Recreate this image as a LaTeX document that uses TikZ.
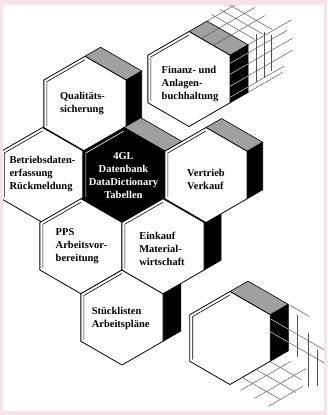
\documentclass[tikz,border=0pt]{standalone}
\usepackage{fontspec}
\setmainfont{Liberation Serif}
\usetikzlibrary{calc}
\definecolor{facegray}{RGB}{160,160,160}
\definecolor{pinkbg}{RGB}{246,226,233}
\definecolor{gridgray}{RGB}{80,80,80}
\definecolor{gridlight}{RGB}{200,200,200}
% name, cx, cy, R, depth
\newcommand\mkhex[5]{%
  \coordinate (#1-c) at (#2,#3);
  \coordinate (#1-T) at (#2,#3-#4);
  \coordinate (#1-UR) at (#2+0.866*#4,#3-0.5*#4);
  \coordinate (#1-LR) at (#2+0.866*#4,#3+0.5*#4);
  \coordinate (#1-B) at (#2,#3+#4);
  \coordinate (#1-LL) at (#2-0.866*#4,#3+0.5*#4);
  \coordinate (#1-UL) at (#2-0.866*#4,#3-0.5*#4);
  \coordinate (#1-Tb) at (#2+0.866*#5,#3-#4-0.5*#5);
  \coordinate (#1-URb) at (#2+0.866*#4+0.866*#5,#3-0.5*#4-0.5*#5);
  \coordinate (#1-LRb) at (#2+0.866*#4+0.866*#5,#3+0.5*#4-0.5*#5);
  \coordinate (#1-iT) at (#2,#3-#4+3.46);
  \coordinate (#1-iUL) at (#2-0.866*#4+3,#3-0.5*#4+1.73);
  \coordinate (#1-iLL) at (#2-0.866*#4+3,#3+0.5*#4-1.73);
}
\newcommand\hexfaces[1]{%
  \draw[topface] (#1-T) -- (#1-UR) -- (#1-URb) -- (#1-Tb) -- cycle;
  \draw[sideface] (#1-UR) -- (#1-LR) -- (#1-LRb) -- (#1-URb) -- cycle;
}
% name, fill, inner line colour
\newcommand\hexbody[3]{%
  \draw[hexfront,fill=#2] (#1-T) -- (#1-UR) -- (#1-LR) -- (#1-B) -- (#1-LL) -- (#1-UL) -- cycle;
  \draw[innerline,draw=#3] (#1-iLL) -- (#1-iUL) -- (#1-iT);
}
% lattice lines of the Finanz block
\newcommand\Fgrid{%
  \draw[grid] ($(F-UR)+(0,8)$) -- ++({0.866*66},{-0.5*66});
  \draw[grid] ($(F-UR)+(0,19)$) -- ++({0.866*72},{-0.5*72});
  \draw[grid] ($(F-UR)+(0,31)$) -- ++({0.866*72},{-0.5*72});
  \draw[grid] ($(F-UR)+(0,42)$) -- ++({0.866*62},{-0.5*62});
  \draw[grid] (F-URb) -- ++({0.866*50},{-0.5*50});
  \draw[grid] (F-LRb) -- ++({0.866*40},{-0.5*40});
  \draw[grid] ($(F-UR)+({0.866*30},{-0.5*30-6})$) -- ++(0,48);
  \draw[grid] ($(F-UR)+({0.866*39},{-0.5*39-4})$) -- ++(0,46);
  \draw[grid] ($(F-UR)+({0.866*48},{-0.5*48+4})$) -- ++(0,36);
  \draw[grid] ($(F-T)+({0.866*14},{0.5*14})$) -- ++({0.866*62},{-0.5*62});
  \draw[grid] ($(F-T)+({0.866*28},{0.5*28})$) -- ++({0.866*60},{-0.5*60});
  \draw[grid] (F-Tb) -- ++({0.866*40},{-0.5*40});
  \draw[grid] ($(F-T)+({0.866*26},{-0.5*34})$) -- ++({0.866*50},{0.5*50});
  \draw[grid] ($(F-T)+({0.866*36},{-0.5*44})$) -- ++({0.866*50},{0.5*50});
  \draw[grid] ($(F-T)+({0.866*46},{-0.5*54})$) -- ++({0.866*50},{0.5*50});
}
% lattice lines of the lower right block
\newcommand\Lgrid{%
  \draw[grid] ($(L-UR)+({0.866*31},{-0.5*31+16})$) -- ++(0,42);
  \draw[grid] ($(L-UR)+({0.866*44},{-0.5*44+40})$) -- ++(0,54);
  \draw[grid] ($(L-UR)+({0.866*54},{-0.5*54+62})$) -- ++(0,36);
  \draw[grid] ($(L-UR)+(0,4)$) -- ++({0.866*66},{0.5*66});
  \draw[grid] ($(L-UR)+(0,17)$) -- ++({0.866*66},{0.5*66});
  \draw[grid] (L-URb) -- ++({0.866*24},{0.5*24});
  \draw[grid] ($(L-B)+({0.866*12},{0.5*12})$) -- ++({0.866*58},{-0.5*58});
  \draw[grid] ($(L-B)+({0.866*28},{0.5*28})$) -- ++({0.866*60},{-0.5*60});
  \draw[grid] ($(L-B)+({0.866*44},{0.5*44})$) -- ++({0.866*40},{-0.5*40});
  \draw[grid] ($(L-B)+({0.866*14},{-0.5*14})$) -- ++({0.866*44},{0.5*44});
  \draw[grid] ($(L-B)+({0.866*30},{-0.5*30})$) -- ++({0.866*46},{0.5*46});
  \draw[grid] ($(L-B)+({0.866*46},{-0.5*46})$) -- ++({0.866*36},{0.5*36});
}
\begin{document}
\begin{tikzpicture}[x=1pt,y=-1pt,
  hexfront/.style={draw=black,line width=0.8pt,line join=miter},
  topface/.style={fill=facegray,draw=black,line width=0.6pt},
  sideface/.style={fill=black,draw=black,line width=0.6pt},
  innerline/.style={line width=0.6pt},
  grid/.style={draw=gridgray,line width=0.45pt},
  hextext/.style={font=\bfseries\fontsize{10.5}{13}\selectfont,align=left,inner sep=0pt}]
\useasboundingbox (0,0) rectangle (327,415);
\fill[pinkbg] (0,0) rectangle (327,415);
\fill[white] (3,5) rectangle (324,411);

\mkhex{B}{42.5}{175}{47.5}{19}
\mkhex{Q}{85}{103.75}{47.5}{18}
\mkhex{G}{124}{175}{47.5}{19.5}
\mkhex{V}{206}{175}{47.5}{18}
\mkhex{P}{81}{246.25}{47.5}{19}
\mkhex{E}{163}{246.25}{47.5}{19.5}
\mkhex{S}{122}{317.5}{47.5}{20.5}
\mkhex{F}{189}{79}{47.5}{20.8}
\mkhex{L}{230}{338}{46.5}{20.8}

\begin{scope}
\clip (3,5) rectangle (324,411);
% cluster, back to front
\hexfaces{B}\hexbody{B}{white}{black}
\hexfaces{P}\hexbody{P}{white}{black}
\hexfaces{S}\hexbody{S}{white}{black}
\hexfaces{Q}\hexbody{Q}{white}{black}
\hexfaces{G}\hexbody{G}{black}{white}
\hexfaces{E}\hexbody{E}{white}{black}
\hexfaces{V}\hexbody{V}{white}{black}
% Finanz block
\hexfaces{F}\hexbody{F}{white}{black}
% lower right block
\hexfaces{L}\hexbody{L}{white}{black}
% lattices
\Fgrid
\Lgrid
\end{scope}
% lattice lines seen light on the black faces
\begin{scope}[grid/.append style={draw=gridlight}]
  \clip (F-UR) -- (F-LR) -- (F-LRb) -- (F-URb) -- cycle;
  \Fgrid
\end{scope}
\begin{scope}[grid/.append style={draw=gridlight}]
  \clip (L-UR) -- (L-LR) -- (L-LRb) -- (L-URb) -- cycle;
  \Lgrid
\end{scope}

% texts
\node[hextext] (tQ) at (82.5,104) {Qualitäts-\\sicherung};
\node[hextext] (tF) at (190,84.5) {Finanz- und\\Anlagen-\\buchhaltung};
\node[hextext] (tB) at (42.5,174) {Betriebsdaten-\\erfassung\\Rückmeldung};
\node[hextext,align=center,text=white] (tG) at (123.5,176) {4GL\\Datenbank\\DataDictionary\\Tabellen};
\node[hextext] (tV) at (206,179) {Vertrieb\\Verkauf};
\node[hextext] (tP) at (81.5,246.5) {PPS\\Arbeitsvor-\\bereitung};
\node[hextext] (tE) at (162,249) {Einkauf\\Material-\\wirtschaft};
\node[hextext] (tS) at (120.7,318) {Stücklisten\\Arbeitspläne};
\end{tikzpicture}
\end{document}
